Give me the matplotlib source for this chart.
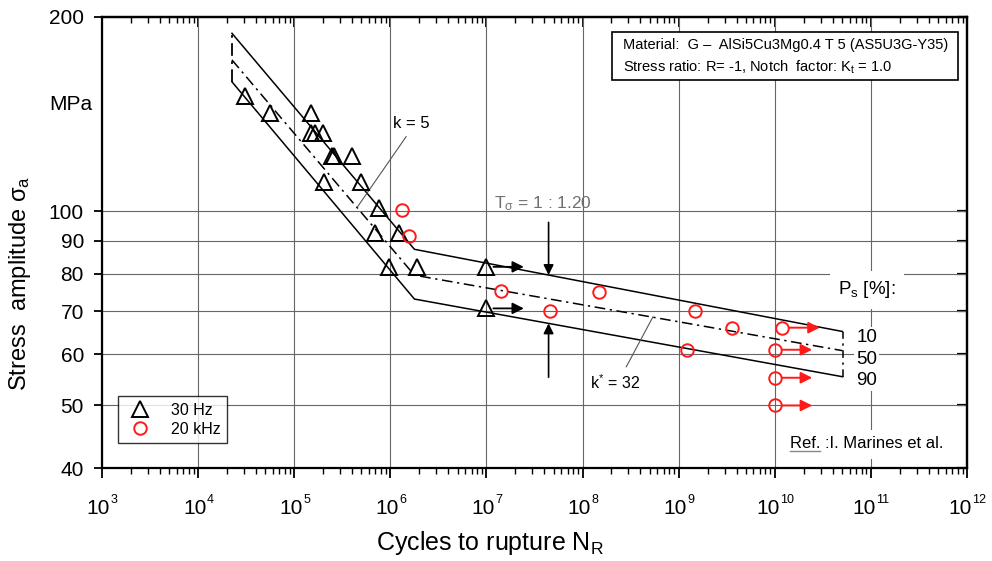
import matplotlib
matplotlib.use('Agg')
import matplotlib.pyplot as plt
import numpy as np
from matplotlib.lines import Line2D
from matplotlib.patches import Rectangle
from matplotlib.ticker import FixedLocator, LogLocator, NullFormatter

plt.rcParams['font.family'] = ['Liberation Sans', 'DejaVu Sans']
plt.rcParams['mathtext.fontset'] = 'custom'
plt.rcParams['mathtext.rm'] = 'Liberation Sans'
plt.rcParams['mathtext.it'] = 'Liberation Sans:italic'
plt.rcParams['mathtext.sf'] = 'Liberation Sans'

# ---------------- data ----------------
hz30_N = [3.06e4, 5.6e4, 1.51e5, 1.49e5, 1.66e5, 1.97e5, 2.47e5, 2.61e5, 3.95e5,
          2.02e5, 4.95e5, 7.7e5, 7.0e5, 1.24e6, 9.6e5, 1.88e6, 1e7, 1e7]
hz30_S = [151, 142, 142, 132, 132, 132, 122, 122, 122,
          111, 111, 101, 92.4, 92.4, 82, 82, 82, 70.7]
khz20_N = [1.32e6, 1.58e6, 1.42e7, 4.6e7, 1.5e8, 1.47e9, 3.6e9, 1.2e10,
           1.22e9, 1e10, 1e10, 1e10]
khz20_S = [100.4, 91.5, 75.2, 70, 75, 70.1, 66, 66, 61, 61, 55.2, 50]

runout30_N = [1e7, 1e7]
runout30_S = [82, 70.7]
runout20_N = [1.2e10, 1e10, 1e10, 1e10]
runout20_S = [66, 61, 55.2, 50]

band_N = [2.25e4, 1.78e6, 5.07e10]
band_10 = [188.7, 87.3, 65.1]
band_50 = [171.6, 79.6, 60.8]
band_90 = [158.7, 73.1, 55.4]

x_ticks = [1e3, 1e4, 1e5, 1e6, 1e7, 1e8, 1e9, 1e10, 1e11, 1e12]
x_exponents = [str(e) for e in range(3, 13)]
y_ticks = [40, 50, 60, 70, 80, 90, 100, 200]
y_ticklabels = ['40', '50', '60', '70', '80', '90', '100', '200']

T_N = 4.43e7  # position of the T_sigma arrows

ARROW_F = 2.45
GRID_C = '#666666'
RED = '#ff1a1a'

# ---------------- figure ----------------
W, H = 992, 561
fig = plt.figure(figsize=(W / 100, H / 100), dpi=100)
ax = fig.add_axes([102 / W, 93 / H, 865 / W, 451 / H])
ax.set_xscale('log')
ax.set_yscale('log')
ax.set_xlim(1e3, 1e12)
ax.set_ylim(40, 200)

ax.xaxis.set_major_locator(FixedLocator(x_ticks))
ax.xaxis.set_major_formatter(NullFormatter())
ax.xaxis.set_minor_locator(LogLocator(base=10, subs=np.arange(2, 10), numticks=20))
ax.xaxis.set_minor_formatter(NullFormatter())
ax.yaxis.set_major_locator(FixedLocator(y_ticks))
ax.yaxis.set_minor_locator(FixedLocator([]))
ax.set_yticklabels(y_ticklabels, fontsize=15)
ax.tick_params(axis='x', which='major', direction='out', length=7, width=1.3)
ax.tick_params(axis='x', which='minor', direction='out', length=4, width=1.0)
ax.tick_params(axis='y', which='major', direction='out', length=6, width=1.3, pad=7)
for sp in ax.spines.values():
    sp.set_linewidth(1.6)

# x tick labels: "10" with a small exponent
BASE_FS, EXP_FS = 15, 9
w10 = 2 * 0.556 * BASE_FS
for t, e in zip(x_ticks, x_exponents):
    we = len(e) * 0.556 * EXP_FS
    shift = -we / 2
    ax.annotate('10', xy=(t, 0), xycoords=('data', 'axes fraction'),
                xytext=(shift, -33), textcoords='offset points',
                ha='center', va='baseline', fontsize=BASE_FS, annotation_clip=False)
    ax.annotate(e, xy=(t, 0), xycoords=('data', 'axes fraction'),
                xytext=(shift + w10 / 2 + 0.5, -25.5), textcoords='offset points',
                ha='left', va='baseline', fontsize=EXP_FS, annotation_clip=False)

# top and right inward ticks
secx = ax.secondary_xaxis('top')
secx.xaxis.set_major_locator(FixedLocator(x_ticks))
secx.xaxis.set_minor_locator(LogLocator(base=10, subs=np.arange(2, 10), numticks=20))
secx.tick_params(axis='x', which='major', direction='in', length=7, width=1.3, labeltop=False)
secx.tick_params(axis='x', which='minor', direction='in', length=4, width=1.0)
secx.xaxis.set_major_formatter(NullFormatter())
secx.xaxis.set_minor_formatter(NullFormatter())
secy = ax.secondary_yaxis('right')
secy.yaxis.set_major_locator(FixedLocator(y_ticks))
secy.yaxis.set_minor_locator(FixedLocator([]))
secy.tick_params(axis='y', which='major', direction='in', length=7, width=1.6, labelright=False)
secy.yaxis.set_major_formatter(NullFormatter())
for sec in (secx, secy):
    for sp in sec.spines.values():
        sp.set_linewidth(1.6)

ax.grid(True, which='major', color=GRID_C, lw=0.8, zorder=0)
ax.set_axisbelow(True)

# ---------------- scatter band ----------------
ax.plot(band_N, band_10, color='black', lw=1.1, zorder=2)
ax.plot(band_N, band_90, color='black', lw=1.1, zorder=2)
ax.plot(band_N, band_50, color='black', lw=1.1, ls=(0, (7, 3, 1.5, 3)), zorder=2)
ax.plot([band_N[0], band_N[0]], [band_90[0], band_10[0]], color='black', lw=1.3,
        ls=(0, (7, 3, 1.5, 3)), zorder=2)
ax.plot([band_N[-1], band_N[-1]], [band_90[-1], band_10[-1]], color='black', lw=1.1,
        ls=(0, (5, 3, 1.5, 3)), zorder=2)

# ---------------- points ----------------
ax.plot(hz30_N, hz30_S, ls='none', marker='^', ms=11, mfc='none', mec='black', mew=1.4, zorder=4)
ax.plot(khz20_N, khz20_S, ls='none', marker='o', ms=9, mfc='none', mec=RED, mew=1.4, zorder=4)

for n, s in zip(runout30_N, runout30_S):
    ax.annotate('', xy=(n * ARROW_F, s), xytext=(n, s),
                arrowprops=dict(arrowstyle='-|>', color='black', lw=1.3,
                                mutation_scale=17, shrinkA=5, shrinkB=0), zorder=3)
for n, s in zip(runout20_N, runout20_S):
    ax.annotate('', xy=(n * ARROW_F, s), xytext=(n, s),
                arrowprops=dict(arrowstyle='-|>', color=RED, lw=1.4,
                                mutation_scale=17, shrinkA=5, shrinkB=0), zorder=3)

# ---------------- annotations ----------------
def band_at(n, band):
    return 10 ** np.interp(np.log10(n), np.log10(band_N), np.log10(band))

ax.annotate('', xy=(T_N, band_at(T_N, band_10)), xytext=(T_N, 96.1),
            arrowprops=dict(arrowstyle='-|>', color='black', lw=1.2, mutation_scale=15,
                            shrinkA=0, shrinkB=0))
ax.annotate('', xy=(T_N, band_at(T_N, band_90)), xytext=(T_N, 55.3),
            arrowprops=dict(arrowstyle='-|>', color='black', lw=1.2, mutation_scale=15,
                            shrinkA=0, shrinkB=0))

ax.text(3.83e7, 102.8, r'$\mathregular{T_{\sigma}}$ = 1 : 1.20', fontsize=12.5, color='#707070',
        ha='center', va='center', zorder=5)

ax.text(1.65e6, 137, 'k = 5', fontsize=12, ha='center', va='center')
ax.plot([1.46e6, 4.56e5], [130.5, 101.6], color='#555555', lw=0.8)

ax.text(2.2e8, 54.2, r'$\mathregular{k^{*}}$ = 32', fontsize=11.5, ha='center', va='center')
ax.plot([2.85e8, 5.4e8], [57.4, 68.6], color='#555555', lw=0.8)

ax.text((866.7 - 102) / 865, (468 - 290) / 451, r'$\mathregular{P_s}$ [%]:', transform=ax.transAxes,
        fontsize=13.5, ha='center', va='center',
        bbox=dict(facecolor='white', edgecolor='none', pad=6), zorder=5)
for lab, py in zip(['10', '50', '90'], [337.3, 359, 380.7]):
    ax.text((866.7 - 102) / 865, (468 - py) / 451, lab, transform=ax.transAxes,
            fontsize=13.5, ha='center', va='center',
            bbox=dict(facecolor='white', edgecolor='none', pad=1.5), zorder=5)

ref_x, ref_y = (790 - 102) / 865, (468 - 444) / 451
ref_t = ax.text(ref_x, ref_y, 'Ref. :I. Marines et al.', transform=ax.transAxes, fontsize=12,
                ha='left', va='center', bbox=dict(facecolor='white', edgecolor='none', pad=5),
                zorder=5)
ref_w = ax.text(ref_x, ref_y, 'Ref.', transform=ax.transAxes, fontsize=12,
                ha='left', va='center', alpha=0)

# material box
ax.add_patch(Rectangle(((612 - 102) / 865, (468 - 80) / 451), (958 - 612) / 865, 48 / 451,
                       transform=ax.transAxes, facecolor='white', edgecolor='black', lw=1.2, zorder=5))
ax.text((623 - 102) / 865, (468 - 45) / 451,
        'Material:  G \u2013  AlSi5Cu3Mg0.4 T 5 (AS5U3G-Y35)', transform=ax.transAxes,
        fontsize=10.5, ha='left', va='center', zorder=6)
ax.text((623 - 102) / 865, (468 - 67) / 451,
        r'Stress ratio: R= -1, Notch  factor: K$\mathregular{_t}$ = 1.0', transform=ax.transAxes,
        fontsize=10.5, ha='left', va='center', zorder=6)

# legend
handles = [Line2D([], [], ls='none', marker='^', ms=11, mfc='none', mec='black', mew=1.4),
           Line2D([], [], ls='none', marker='o', ms=9, mfc='none', mec=RED, mew=1.4)]
leg = ax.legend(handles, ['30 Hz', '20 kHz'], loc='lower left',
                bbox_to_anchor=((118 - 102) / 865, (468 - 443) / 451), borderaxespad=0,
                fontsize=11.5, frameon=True, fancybox=False, edgecolor='black',
                handlelength=2.0, handletextpad=0.9, borderpad=0.4, labelspacing=0.25)
leg.get_frame().set_linewidth(1.0)
leg.set_zorder(6)

# axis labels
fig.text(71 / W, 1 - 105 / H, 'MPa', fontsize=15, ha='center', va='center')
fig.text(20 / W, 1 - 283 / H, r'Stress  amplitude $\mathregular{σ_a}$', fontsize=17,
         rotation=90, ha='center', va='center')
fig.text(490 / W, 1 - 543 / H, r'Cycles to rupture $\mathregular{N_R}$', fontsize=18,
         ha='center', va='center')

# underline "Ref."
fig.canvas.draw()
bb = ref_w.get_window_extent(fig.canvas.get_renderer())
inv = fig.transFigure.inverted()
(x0, y0), (x1, _) = inv.transform([(bb.x0, bb.y0 + 1), (bb.x1, bb.y0 + 1)])
fig.add_artist(Line2D([x0, x1], [y0, y0], color='#888888', lw=1.0, zorder=7))

fig.savefig('out.png', dpi=100)
